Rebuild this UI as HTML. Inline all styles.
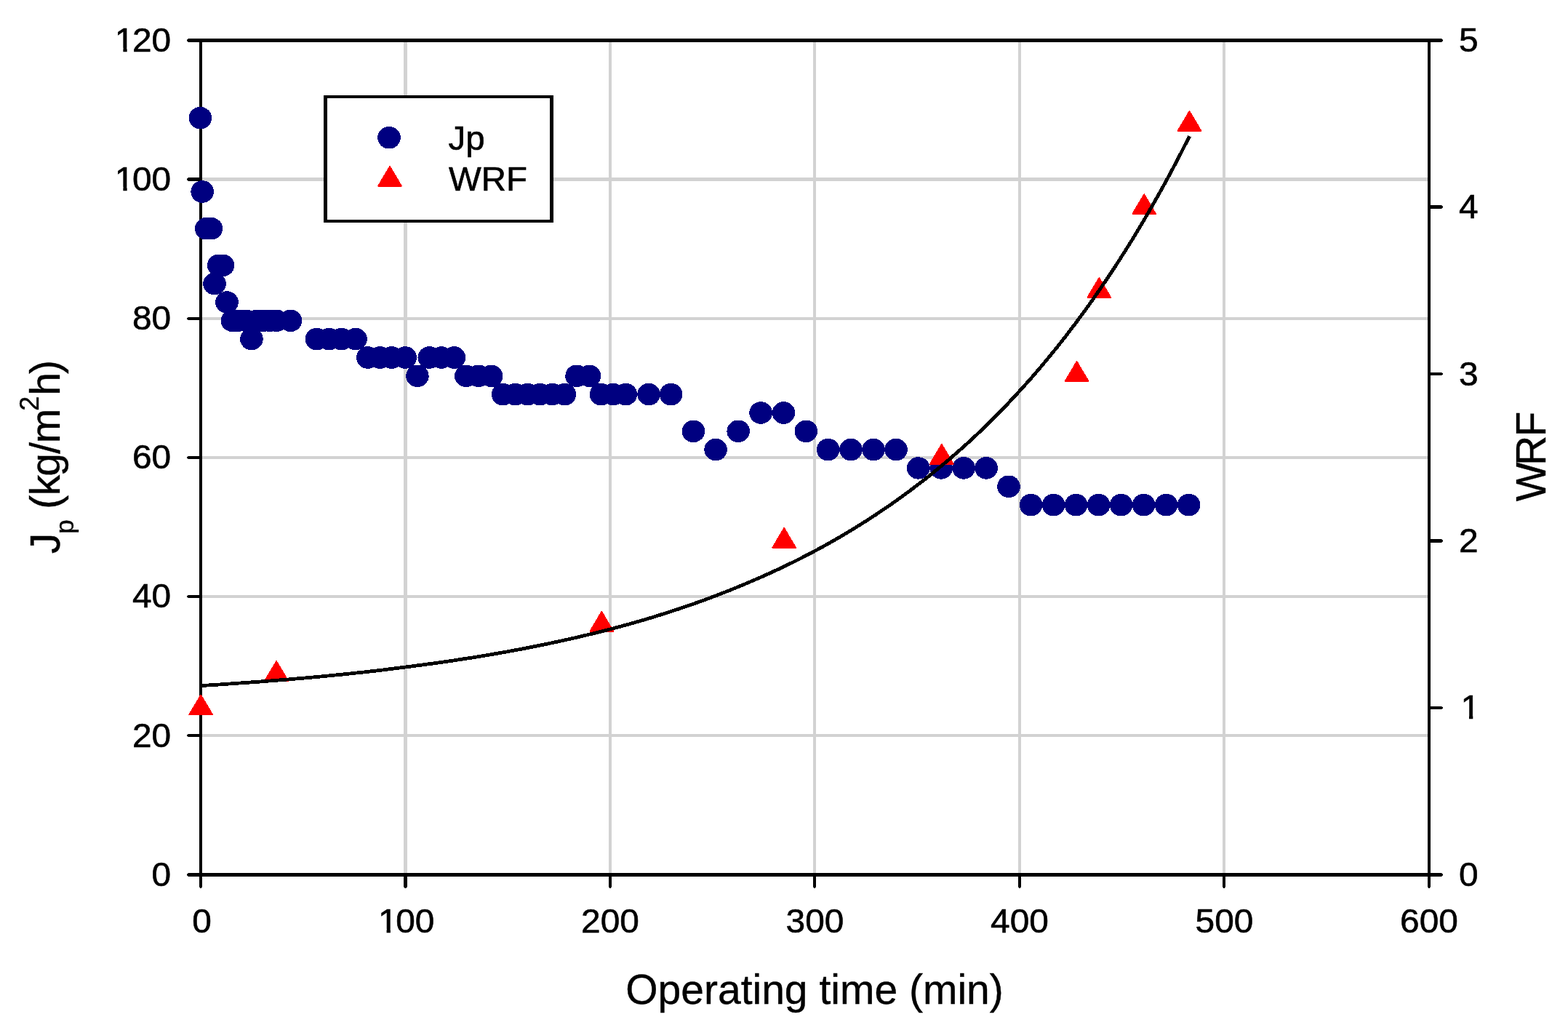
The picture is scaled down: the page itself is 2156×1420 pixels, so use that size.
<!DOCTYPE html>
<html lang="en">
<head>
<meta charset="utf-8">
<title>Jp and WRF versus operating time</title>
<style>
html,body{margin:0;padding:0;background:#ffffff;}
body{width:2156px;height:1420px;overflow:hidden;}
svg{display:block;}
text{font-family:"Liberation Sans",Arial,Helvetica,sans-serif;fill:#000;}
.tick{font-size:46px;stroke:#000;stroke-width:0.6px;}
.axl{font-size:57px;stroke:#000;stroke-width:0.4px;}
.jp ellipse{fill:#000080;}
.wrf path{fill:#ff0000;stroke:#ff0000;stroke-width:2;stroke-linejoin:round;}
</style>
</head>
<body>
<svg width="2156" height="1420" viewBox="0 0 2156 1420">
<rect x="0" y="0" width="2156" height="1420" fill="#ffffff"/>
<g class="grid" fill="#d2d2d2">
<rect x="555" y="58" width="5" height="1142"/>
<rect x="837" y="58" width="4" height="1142"/>
<rect x="1118" y="58" width="4" height="1142"/>
<rect x="1400" y="58" width="4" height="1142"/>
<rect x="1681" y="58" width="4" height="1142"/>
<rect x="278" y="1009" width="1685" height="4"/>
<rect x="278" y="818" width="1685" height="4"/>
<rect x="278" y="627" width="1685" height="4"/>
<rect x="278" y="436" width="1685" height="4"/>
<rect x="278" y="244" width="1685" height="5"/>
</g>
<g class="axis" fill="#000">
<rect x="274" y="53" width="4" height="1152"/>
<rect x="1963" y="53" width="4" height="1152"/>
<rect x="274" y="53" width="1693" height="5"/>
<rect x="274" y="1200" width="1693" height="5"/>
</g>
<g class="ticks" fill="#000">
<path d="M275.0 53.0 L259.0 53.0 L257.0 54.7 L257.0 56.3 L259.0 58.0 L275.0 58.0 Z"/>
<path d="M275.0 244.0 L259.0 244.0 L257.0 245.7 L257.0 247.3 L259.0 249.0 L275.0 249.0 Z"/>
<path d="M275.0 436.0 L259.0 436.0 L257.0 437.2 L257.0 438.8 L259.0 440.0 L275.0 440.0 Z"/>
<path d="M275.0 627.0 L259.0 627.0 L257.0 628.2 L257.0 629.8 L259.0 631.0 L275.0 631.0 Z"/>
<path d="M275.0 818.0 L259.0 818.0 L257.0 819.2 L257.0 820.8 L259.0 822.0 L275.0 822.0 Z"/>
<path d="M275.0 1009.0 L259.0 1009.0 L257.0 1010.2 L257.0 1011.8 L259.0 1013.0 L275.0 1013.0 Z"/>
<path d="M275.0 1200.0 L259.0 1200.0 L257.0 1201.7 L257.0 1203.3 L259.0 1205.0 L275.0 1205.0 Z"/>
<path d="M1966.0 53.0 L1982.0 53.0 L1984.0 54.7 L1984.0 56.3 L1982.0 58.0 L1966.0 58.0 Z"/>
<path d="M1966.0 282.0 L1982.0 282.0 L1984.0 283.7 L1984.0 285.3 L1982.0 287.0 L1966.0 287.0 Z"/>
<path d="M1966.0 512.0 L1982.0 512.0 L1984.0 513.2 L1984.0 514.8 L1982.0 516.0 L1966.0 516.0 Z"/>
<path d="M1966.0 741.0 L1982.0 741.0 L1984.0 742.7 L1984.0 744.3 L1982.0 746.0 L1966.0 746.0 Z"/>
<path d="M1966.0 971.0 L1982.0 971.0 L1984.0 972.2 L1984.0 973.8 L1982.0 975.0 L1966.0 975.0 Z"/>
<path d="M1966.0 1200.0 L1982.0 1200.0 L1984.0 1201.7 L1984.0 1203.3 L1982.0 1205.0 L1966.0 1205.0 Z"/>
<path d="M274.0 1204.0 L274.0 1219.0 L275.2 1221.0 L276.8 1221.0 L278.0 1219.0 L278.0 1204.0 Z"/>
<path d="M555.0 1204.0 L555.0 1219.0 L556.7 1221.0 L558.3 1221.0 L560.0 1219.0 L560.0 1204.0 Z"/>
<path d="M837.0 1204.0 L837.0 1219.0 L838.2 1221.0 L839.8 1221.0 L841.0 1219.0 L841.0 1204.0 Z"/>
<path d="M1118.0 1204.0 L1118.0 1219.0 L1119.2 1221.0 L1120.8 1221.0 L1122.0 1219.0 L1122.0 1204.0 Z"/>
<path d="M1400.0 1204.0 L1400.0 1219.0 L1401.2 1221.0 L1402.8 1221.0 L1404.0 1219.0 L1404.0 1204.0 Z"/>
<path d="M1681.0 1204.0 L1681.0 1219.0 L1682.2 1221.0 L1683.8 1221.0 L1685.0 1219.0 L1685.0 1204.0 Z"/>
<path d="M1963.0 1204.0 L1963.0 1219.0 L1964.2 1221.0 L1965.8 1221.0 L1967.0 1219.0 L1967.0 1204.0 Z"/>
</g>
<g>
<g transform="translate(235.20 1217.80) scale(1.04 1)"><text class="tick" x="-25.59" y="0">0</text></g>
<g transform="translate(235.20 1026.63) scale(1.04 1)"><text class="tick" x="-51.17" y="0">20</text></g>
<g transform="translate(235.20 835.47) scale(1.04 1)"><text class="tick" x="-51.17" y="0">40</text></g>
<g transform="translate(235.20 644.30) scale(1.04 1)"><text class="tick" x="-51.17" y="0">60</text></g>
<g transform="translate(235.20 453.13) scale(1.04 1)"><text class="tick" x="-51.17" y="0">80</text></g>
<g transform="translate(235.20 261.97) scale(1.04 1)"><text class="tick" x="-74.36 -51.17" y="0">100</text><rect x="-72.06" y="-5.03" width="8.75" height="6.43" fill="#fff"/><rect x="-58.21" y="-5.03" width="8.38" height="6.43" fill="#fff"/></g>
<g transform="translate(235.20 70.80) scale(1.04 1)"><text class="tick" x="-74.36 -51.17" y="0">120</text><rect x="-72.06" y="-5.03" width="8.75" height="6.43" fill="#fff"/><rect x="-58.21" y="-5.03" width="8.38" height="6.43" fill="#fff"/></g>
<g transform="translate(277.50 1282.00) scale(1.04 1)"><text class="tick" x="-12.79" y="0">0</text></g>
<g transform="translate(557.50 1282.00) scale(1.04 1)"><text class="tick" x="-35.98 -12.79" y="0">100</text><rect x="-33.68" y="-5.03" width="8.75" height="6.43" fill="#fff"/><rect x="-19.83" y="-5.03" width="8.38" height="6.43" fill="#fff"/></g>
<g transform="translate(839.00 1282.00) scale(1.04 1)"><text class="tick" x="-38.38" y="0">200</text></g>
<g transform="translate(1120.50 1282.00) scale(1.04 1)"><text class="tick" x="-38.38" y="0">300</text></g>
<g transform="translate(1402.00 1282.00) scale(1.04 1)"><text class="tick" x="-38.38" y="0">400</text></g>
<g transform="translate(1683.50 1282.00) scale(1.04 1)"><text class="tick" x="-38.38" y="0">500</text></g>
<g transform="translate(1965.00 1282.00) scale(1.04 1)"><text class="tick" x="-38.38" y="0">600</text></g>
<g transform="translate(2006.00 1217.80) scale(1.04 1)"><text class="tick" x="0.00" y="0">0</text></g>
<g transform="translate(2006.00 988.40) scale(1.04 1)"><text class="tick" x="2.40" y="0">1</text><rect x="4.70" y="-5.03" width="8.75" height="6.43" fill="#fff"/><rect x="18.54" y="-5.03" width="8.38" height="6.43" fill="#fff"/></g>
<g transform="translate(2006.00 759.00) scale(1.04 1)"><text class="tick" x="0.00" y="0">2</text></g>
<g transform="translate(2006.00 529.60) scale(1.04 1)"><text class="tick" x="0.00" y="0">3</text></g>
<g transform="translate(2006.00 300.20) scale(1.04 1)"><text class="tick" x="0.00" y="0">4</text></g>
<g transform="translate(2006.00 70.80) scale(1.04 1)"><text class="tick" x="0.00" y="0">5</text></g>
</g>
<text class="axl" transform="translate(1120.00 1380.00) scale(1.0 1)" text-anchor="middle">Operating time (min)</text>
<g transform="translate(81.80 760.00) rotate(-90)">
<text class="axl"><tspan x="-1.3" y="0">J</tspan><tspan x="26.25" y="19.2" font-size="35">p</tspan><tspan x="44.2 60.2 78.7 105.2 136.2 150.65" y="0"> (kg/m</tspan><tspan x="195.15" y="-28.9" font-size="36">2</tspan><tspan x="216.15 246" y="0">h)</tspan></text>
</g>
<g transform="translate(2125.10 690.00) rotate(-90)">
<text class="axl" x="0.65 50.05 89.55" y="0">WRF</text>
</g>
<g class="jp" shape-rendering="crispEdges">
<ellipse cx="275.4" cy="162.2" rx="15.8" ry="15.3"/>
<ellipse cx="278.2" cy="263.5" rx="15.8" ry="15.3"/>
<ellipse cx="283.8" cy="314.2" rx="15.8" ry="15.3"/>
<ellipse cx="290.4" cy="314.2" rx="15.8" ry="15.3"/>
<ellipse cx="295.0" cy="390.1" rx="15.8" ry="15.3"/>
<ellipse cx="300.7" cy="364.8" rx="15.8" ry="15.3"/>
<ellipse cx="306.4" cy="364.8" rx="15.8" ry="15.3"/>
<ellipse cx="312.0" cy="415.5" rx="15.8" ry="15.3"/>
<ellipse cx="319.5" cy="440.8" rx="15.8" ry="15.3"/>
<ellipse cx="327.0" cy="440.8" rx="15.8" ry="15.3"/>
<ellipse cx="338.0" cy="440.8" rx="15.8" ry="15.3"/>
<ellipse cx="353.5" cy="440.8" rx="15.8" ry="15.3"/>
<ellipse cx="362.0" cy="440.8" rx="15.8" ry="15.3"/>
<ellipse cx="371.0" cy="440.8" rx="15.8" ry="15.3"/>
<ellipse cx="380.0" cy="440.8" rx="15.8" ry="15.3"/>
<ellipse cx="399.5" cy="440.8" rx="15.8" ry="15.3"/>
<ellipse cx="345.9" cy="466.1" rx="15.8" ry="15.3"/>
<ellipse cx="435.4" cy="466.1" rx="15.8" ry="15.3"/>
<ellipse cx="452.4" cy="466.1" rx="15.8" ry="15.3"/>
<ellipse cx="469.7" cy="466.1" rx="15.8" ry="15.3"/>
<ellipse cx="489.0" cy="466.1" rx="15.8" ry="15.3"/>
<ellipse cx="505.8" cy="491.5" rx="15.8" ry="15.3"/>
<ellipse cx="522.5" cy="491.5" rx="15.8" ry="15.3"/>
<ellipse cx="538.7" cy="491.5" rx="15.8" ry="15.3"/>
<ellipse cx="557.2" cy="491.5" rx="15.8" ry="15.3"/>
<ellipse cx="573.9" cy="516.8" rx="15.8" ry="15.3"/>
<ellipse cx="590.3" cy="491.5" rx="15.8" ry="15.3"/>
<ellipse cx="607.0" cy="491.5" rx="15.8" ry="15.3"/>
<ellipse cx="624.4" cy="491.5" rx="15.8" ry="15.3"/>
<ellipse cx="640.8" cy="516.8" rx="15.8" ry="15.3"/>
<ellipse cx="658.0" cy="516.8" rx="15.8" ry="15.3"/>
<ellipse cx="675.6" cy="516.8" rx="15.8" ry="15.3"/>
<ellipse cx="691.7" cy="542.1" rx="15.8" ry="15.3"/>
<ellipse cx="708.6" cy="542.1" rx="15.8" ry="15.3"/>
<ellipse cx="725.5" cy="542.1" rx="15.8" ry="15.3"/>
<ellipse cx="742.4" cy="542.1" rx="15.8" ry="15.3"/>
<ellipse cx="759.3" cy="542.1" rx="15.8" ry="15.3"/>
<ellipse cx="776.4" cy="542.1" rx="15.8" ry="15.3"/>
<ellipse cx="793.0" cy="516.8" rx="15.8" ry="15.3"/>
<ellipse cx="810.5" cy="516.8" rx="15.8" ry="15.3"/>
<ellipse cx="826.6" cy="542.1" rx="15.8" ry="15.3"/>
<ellipse cx="843.1" cy="542.1" rx="15.8" ry="15.3"/>
<ellipse cx="860.3" cy="542.1" rx="15.8" ry="15.3"/>
<ellipse cx="892.1" cy="542.1" rx="15.8" ry="15.3"/>
<ellipse cx="922.7" cy="542.1" rx="15.8" ry="15.3"/>
<ellipse cx="953.4" cy="592.8" rx="15.8" ry="15.3"/>
<ellipse cx="984.1" cy="618.1" rx="15.8" ry="15.3"/>
<ellipse cx="1015.2" cy="592.8" rx="15.8" ry="15.3"/>
<ellipse cx="1046.1" cy="567.5" rx="15.8" ry="15.3"/>
<ellipse cx="1077.5" cy="567.5" rx="15.8" ry="15.3"/>
<ellipse cx="1108.3" cy="592.8" rx="15.8" ry="15.3"/>
<ellipse cx="1138.7" cy="618.1" rx="15.8" ry="15.3"/>
<ellipse cx="1170.0" cy="618.1" rx="15.8" ry="15.3"/>
<ellipse cx="1201.0" cy="618.1" rx="15.8" ry="15.3"/>
<ellipse cx="1232.1" cy="618.1" rx="15.8" ry="15.3"/>
<ellipse cx="1262.7" cy="643.4" rx="15.8" ry="15.3"/>
<ellipse cx="1294.1" cy="643.4" rx="15.8" ry="15.3"/>
<ellipse cx="1325.1" cy="643.4" rx="15.8" ry="15.3"/>
<ellipse cx="1356.1" cy="643.4" rx="15.8" ry="15.3"/>
<ellipse cx="1387.0" cy="668.8" rx="15.8" ry="15.3"/>
<ellipse cx="1417.7" cy="694.1" rx="15.8" ry="15.3"/>
<ellipse cx="1448.7" cy="694.1" rx="15.8" ry="15.3"/>
<ellipse cx="1479.7" cy="694.1" rx="15.8" ry="15.3"/>
<ellipse cx="1510.7" cy="694.1" rx="15.8" ry="15.3"/>
<ellipse cx="1541.7" cy="694.1" rx="15.8" ry="15.3"/>
<ellipse cx="1572.7" cy="694.1" rx="15.8" ry="15.3"/>
<ellipse cx="1603.7" cy="694.1" rx="15.8" ry="15.3"/>
<ellipse cx="1634.7" cy="694.1" rx="15.8" ry="15.3"/>
</g>
<g class="wrf" shape-rendering="crispEdges">
<path d="M276.2 955.6 L292.0 982.3 L260.4 982.3 Z"/>
<path d="M380.1 909.1 L395.9 935.8 L364.3 935.8 Z"/>
<path d="M827.3 841.0 L843.1 867.7 L811.5 867.7 Z"/>
<path d="M1078.2 726.1 L1094.0 752.8 L1062.4 752.8 Z"/>
<path d="M1294.8 611.0 L1310.6 637.7 L1279.0 637.7 Z"/>
<path d="M1480.6 497.2 L1496.4 523.9 L1464.8 523.9 Z"/>
<path d="M1511.3 382.1 L1527.1 408.8 L1495.5 408.8 Z"/>
<path d="M1573.2 267.3 L1589.0 294.0 L1557.4 294.0 Z"/>
<path d="M1635.5 153.1 L1651.3 179.8 L1619.7 179.8 Z"/>
</g>
<path d="M276.0 942.6 L287.3 941.9 L298.7 941.2 L310.0 940.4 L321.3 939.6 L332.7 938.8 L344.0 938.0 L355.3 937.2 L366.6 936.3 L378.0 935.4 L389.3 934.5 L400.6 933.6 L412.0 932.6 L423.3 931.6 L434.6 930.6 L446.0 929.5 L457.3 928.4 L468.6 927.3 L479.9 926.1 L491.3 924.9 L502.6 923.7 L513.9 922.4 L525.3 921.1 L536.6 919.6 L547.9 918.2 L559.3 916.8 L570.6 915.3 L581.9 913.8 L593.3 912.3 L604.6 910.7 L615.9 909.1 L627.2 907.4 L638.6 905.6 L649.9 903.9 L661.2 902.0 L672.6 900.1 L683.9 898.2 L695.2 896.2 L706.6 894.1 L717.9 892.0 L729.2 889.8 L740.5 887.5 L751.9 885.2 L763.2 882.8 L774.5 880.4 L785.9 877.8 L797.2 875.2 L808.5 872.5 L819.9 869.8 L831.2 866.9 L842.5 864.0 L853.8 861.0 L865.2 857.9 L876.5 854.7 L887.8 851.4 L899.2 847.9 L910.5 844.4 L921.8 840.8 L933.2 837.1 L944.5 833.2 L955.8 829.3 L967.2 825.2 L978.5 821.0 L989.8 816.7 L1001.1 812.3 L1012.5 807.7 L1023.8 803.0 L1035.1 798.2 L1046.5 793.3 L1057.8 788.2 L1069.1 783.0 L1080.5 777.6 L1091.8 772.1 L1103.1 766.4 L1114.4 760.5 L1125.8 754.5 L1137.1 748.3 L1148.4 741.9 L1159.8 735.3 L1171.1 728.5 L1182.4 721.5 L1193.8 714.3 L1205.1 706.9 L1216.4 699.3 L1227.8 691.5 L1239.1 683.4 L1250.4 675.1 L1261.7 666.6 L1273.1 657.8 L1284.4 648.7 L1295.7 639.4 L1307.1 629.8 L1318.4 619.9 L1329.7 609.8 L1341.1 599.3 L1352.4 588.5 L1363.7 577.4 L1375.0 566.0 L1386.4 554.2 L1397.7 542.1 L1409.0 529.7 L1420.4 516.9 L1431.7 503.7 L1443.0 490.1 L1454.4 476.1 L1465.7 461.7 L1477.0 446.9 L1488.4 431.6 L1499.7 415.9 L1511.0 399.7 L1522.3 383.1 L1533.7 365.9 L1545.0 348.3 L1556.3 330.2 L1567.7 311.5 L1579.0 292.2 L1590.3 272.4 L1601.7 252.0 L1613.0 231.0 L1624.3 209.4 L1635.6 187.2" fill="none" stroke="#000" stroke-width="4.8" stroke-linecap="butt" stroke-linejoin="round" shape-rendering="crispEdges"/>
<g>
<rect x="445" y="131" width="316" height="175" fill="#000"/>
<rect x="450" y="135" width="306" height="167" fill="#fff"/>
<g class="jp" shape-rendering="crispEdges"><ellipse cx="535.0" cy="189.2" rx="15.8" ry="15.3"/></g>
<g class="wrf" shape-rendering="crispEdges"><path d="M536.0 229.0 L551.8 255.7 L520.2 255.7 Z"/></g>
<text class="tick" transform="translate(616.50 205.50) scale(1.03 1)">Jp</text>
<text class="tick" transform="translate(617.00 262.00) scale(1.03 1)">WRF</text>
</g>
</svg>
</body>
</html>
